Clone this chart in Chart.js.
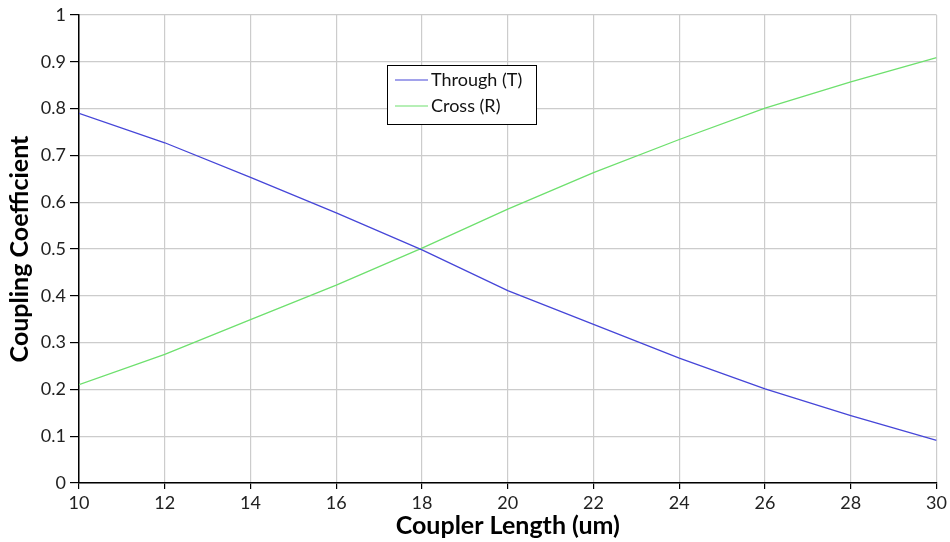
<!DOCTYPE html>
<html>
<head>
<meta charset="utf-8">
<script src="https://cdn.jsdelivr.net/npm/chart.js@4/dist/chart.umd.min.js"></script>
<style>
  html, body { margin: 0; padding: 0; background: #fff; }
  #wrap { width: 950px; height: 542px; position: relative; }
</style>
</head>
<body>
<div id="wrap"><canvas id="coupler-chart"></canvas></div>
<script>
// --- Data ---
const couplerLength = [10, 12, 14, 16, 18, 20, 22, 24, 26, 28, 30];
const throughT = [0.790, 0.727, 0.653, 0.577, 0.498, 0.411, 0.339, 0.267, 0.201, 0.144, 0.091];
const crossR   = [0.210, 0.275, 0.349, 0.423, 0.502, 0.585, 0.663, 0.734, 0.801, 0.857, 0.909];
const seriesLabels = ['Through (T)', 'Cross (R)'];
const xTicks = [10, 12, 14, 16, 18, 20, 22, 24, 26, 28, 30];
const yTicks = [0, 0.1, 0.2, 0.3, 0.4, 0.5, 0.6, 0.7, 0.8, 0.9, 1];

const fontFamily = 'Lato, "DejaVu Sans", sans-serif';
const tickFont = { family: fontFamily, size: 18 };
const titleFont = { family: fontFamily, size: 25, weight: 'bold' };

// boxed legend drawn inside the plot, below the top grid line
const boxedLegend = {
    id: 'boxedLegend',
    afterDatasetsDraw(chart) {
        const ctx = chart.ctx;
        const x = 387, y = 65, w = 149, h = 59;
        ctx.save();
        ctx.fillStyle = '#fff';
        ctx.fillRect(x, y, w, h);
        ctx.strokeStyle = '#000';
        ctx.lineWidth = 1;
        ctx.strokeRect(x + 0.5, y + 0.5, w, h);
        ctx.font = '18px ' + fontFamily;
        ctx.textBaseline = 'middle';
        chart.data.datasets.forEach((ds, i) => {
            const ly = y + 15 + i * 26;
            ctx.strokeStyle = ds.borderColor;
            ctx.lineWidth = 1.2;
            ctx.beginPath();
            ctx.moveTo(x + 8, ly);
            ctx.lineTo(x + 41, ly);
            ctx.stroke();
            ctx.fillStyle = '#111';
            ctx.fillText(ds.label, x + 44, ly);
        });
        ctx.restore();
    }
};

new Chart(document.getElementById('coupler-chart'), {
    type: 'line',
    data: {
        datasets: [{
            label: seriesLabels[0],
            data: couplerLength.map((x, i) => ({ x: x, y: throughT[i] })),
            borderColor: '#4646d8',
            borderWidth: 1.3,
            pointRadius: 0,
            tension: 0
        }, {
            label: seriesLabels[1],
            data: couplerLength.map((x, i) => ({ x: x, y: crossR[i] })),
            borderColor: '#6ee06e',
            borderWidth: 1.3,
            pointRadius: 0,
            tension: 0
        }]
    },
    options: {
        responsive: true,
        maintainAspectRatio: false,
        animation: false,
        layout: { padding: { top: 15, right: 12, left: 0, bottom: 0 } },
        plugins: {
            legend: { display: false },
            tooltip: { enabled: false }
        },
        scales: {
            x: {
                type: 'linear',
                min: 10,
                max: 30,
                afterBuildTicks: (scale) => { scale.ticks = xTicks.map(v => ({ value: v })); },
                afterFit: (scale) => { scale.height = 59; },
                border: { color: '#000', width: 1.5 },
                grid: { color: '#cccccc', lineWidth: 1.2, tickColor: '#000', tickLength: 6 },
                ticks: { color: '#222', font: tickFont, padding: 3, maxRotation: 0 },
                title: { display: true, text: 'Coupler Length (um)', color: '#000', font: titleFont, padding: { top: 0, bottom: 1 } }
            },
            y: {
                min: 0,
                max: 1,
                afterBuildTicks: (scale) => { scale.ticks = yTicks.map(v => ({ value: v })); },
                afterFit: (scale) => { scale.width = 79; },
                border: { color: '#000', width: 1.5 },
                grid: { color: '#cccccc', lineWidth: 1.2, tickColor: '#000', tickLength: 9 },
                ticks: { color: '#222', font: tickFont, padding: 4, callback: (v) => String(+v.toFixed(1)) },
                title: { display: true, text: 'Coupling Coefficient', color: '#000', font: titleFont, padding: { top: 5, bottom: 0 } }
            }
        }
    },
    plugins: [boxedLegend]
});
</script>
</body>
</html>
